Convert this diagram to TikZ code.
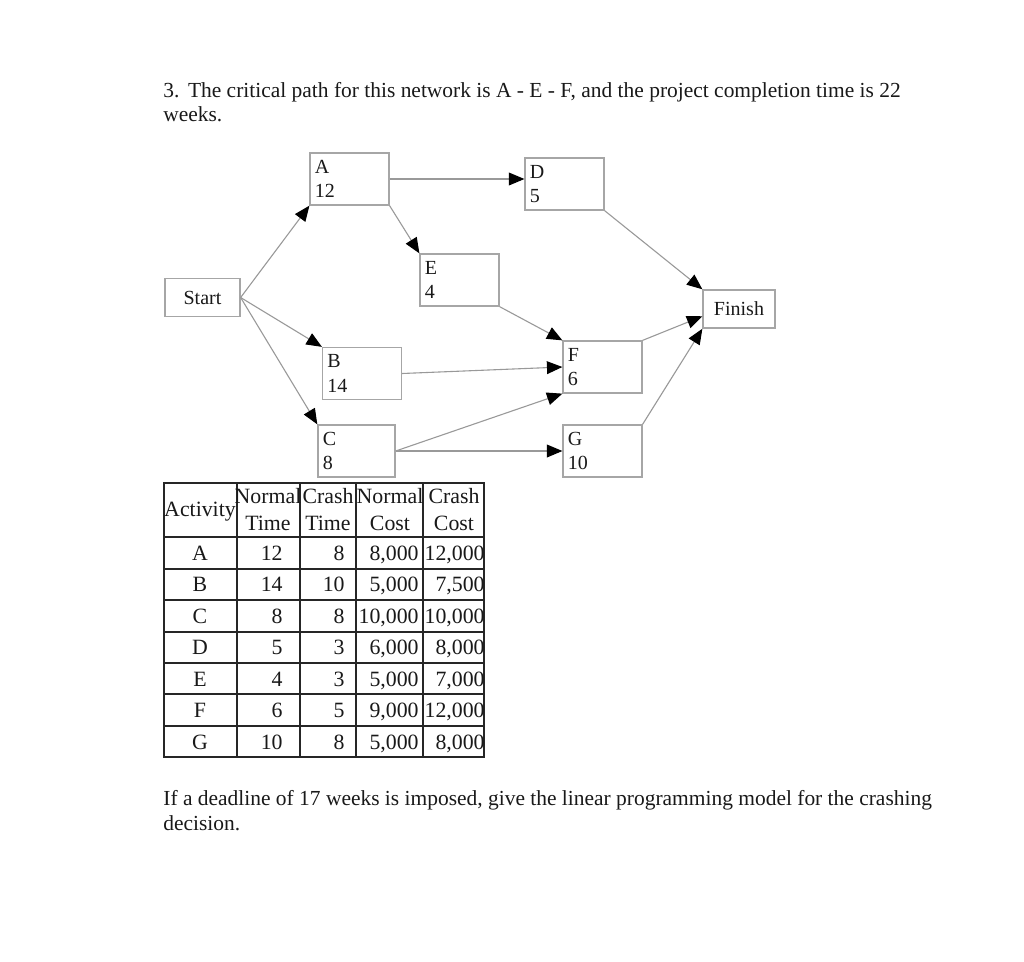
\documentclass[tikz,border=0pt]{standalone}
\usepackage{fontspec}
\setmainfont{Liberation Serif}
\usetikzlibrary{arrows.meta,positioning,calc}

\begin{document}
\begin{tikzpicture}[
    x=0.55pt, y=-0.55pt,
    act/.style={rectangle, draw=gray!70, line width=0.7pt, text width=38pt, inner xsep=2.7pt, minimum height=28.6pt, align=left, text=black!90, font=\fontsize{11}{13.5}\selectfont},
    term/.style={rectangle, draw=gray!70, line width=0.7pt, minimum height=21pt, text=black!90, font=\fontsize{11}{13}\selectfont},
    arrow/.style={draw=gray!80, line width=0.6pt, -{Triangle[length=8.5pt, width=7pt, black]}},
    txt/.style={anchor=base west, inner sep=0pt, text=black!90, font=\fontsize{11.8}{14}\selectfont},
    cell/.style={anchor=base east, inner sep=0pt, text=black!90, font=\fontsize{12}{14}\selectfont},
    head/.style={anchor=base, inner sep=0pt, text=black!90, font=\fontsize{12}{14}\selectfont},
    grid/.style={black!85, line width=1.2pt}
]
\useasboundingbox (0,0) rectangle (1024,961);
\fill[white] (0,0) rectangle (1024,961);

% Question
\node[txt] (q1) at (163,97) {3.\hspace{0.4em}The critical path for this network is A - E - F, and the project completion time is 22};
\node[txt] (q2) at (163,121) {weeks.};

% Start and Finish
\node[term, minimum width=41.25pt] (start) at (202.5,297.5) {Start};
\node[term, minimum width=39.6pt] (finish) at (739,309) {Finish};

% Activities
\node[act] (a) at (349.5,179) {A\\12};
\node[act] (d) at (564.5,184) {D\\5};
\node[act] (e) at (459.5,280) {E\\4};
\node[act] (b) at (362,373.5) {B\\14};
\node[act] (f) at (602.5,367) {F\\6};
\node[act, text width=37pt] (c) at (356.5,451) {C\\8};
\node[act] (g) at (602.5,451) {G\\10};

% Connections
\draw[arrow] (start.east) -- (a.south west);
\draw[arrow] (start.east) -- (b.north west);
\draw[arrow] (start.east) -- (c.north west);
\draw[arrow] (a.east) -- (a.east -| d.west);
\draw[arrow] (a.south east) -- (e.north west);
\draw[arrow] (e.south east) -- (f.north west);
\draw[arrow] (b.east) -- (f.west);
\draw[arrow] (c.east) -- (f.south west);
\draw[arrow] (c.east) -- (c.east -| g.west);
\draw[arrow] (d.south east) -- (finish.north west);
\draw[arrow] (f.north east) -- ([yshift=-4pt]finish.west);
\draw[arrow] (g.north east) -- (finish.south west);

% Table
\draw[grid] (164,483) rectangle (484,757);
\foreach \xa in {237,300,356,423} \draw[grid] (\xa,483) -- (\xa,757);
\foreach \ya in {537,569,600,632,663,694,726} \draw[grid] (164,\ya) -- (484,\ya);

\node[head] (h-act) at (200,516) {Activity};
\node[head] (h-nt1) at (268,503) {Normal};
\node[head] (h-nt2) at (268,530) {Time};
\node[head] (h-ct1) at (328,503) {Crash};
\node[head] (h-ct2) at (328,530) {Time};
\node[head] (h-nc1) at (390,503) {Normal};
\node[head] (h-nc2) at (390,530) {Cost};
\node[head] (h-cc1) at (454,503) {Crash};
\node[head] (h-cc2) at (454,530) {Cost};

\foreach \act/\nt/\ct/\nc/\cc [count=\i] in {A/12/8/{8,000}/{12,000}, B/14/10/{5,000}/{7,500}, C/8/8/{10,000}/{10,000}, D/5/3/{6,000}/{8,000}, E/4/3/{5,000}/{7,000}, F/6/5/{9,000}/{12,000}, G/10/8/{5,000}/{8,000}}{
  \pgfmathsetmacro\yb{537+31.43*(\i-1)+23.5}
  \node[head] (act-\i) at (200,\yb) {\act};
  \node[cell] (nt-\i) at (283,\yb) {\nt};
  \node[cell] (ct-\i) at (345,\yb) {\ct};
  \node[cell] (nc-\i) at (419,\yb) {\nc};
  \node[cell] (cc-\i) at (485,\yb) {\cc};
}

% Follow-up question
\node[txt] (q3) at (163,805) {If a deadline of 17 weeks is imposed, give the linear programming model for the crashing};
\node[txt] (q4) at (163,830) {decision.};

\end{tikzpicture}
\end{document}
